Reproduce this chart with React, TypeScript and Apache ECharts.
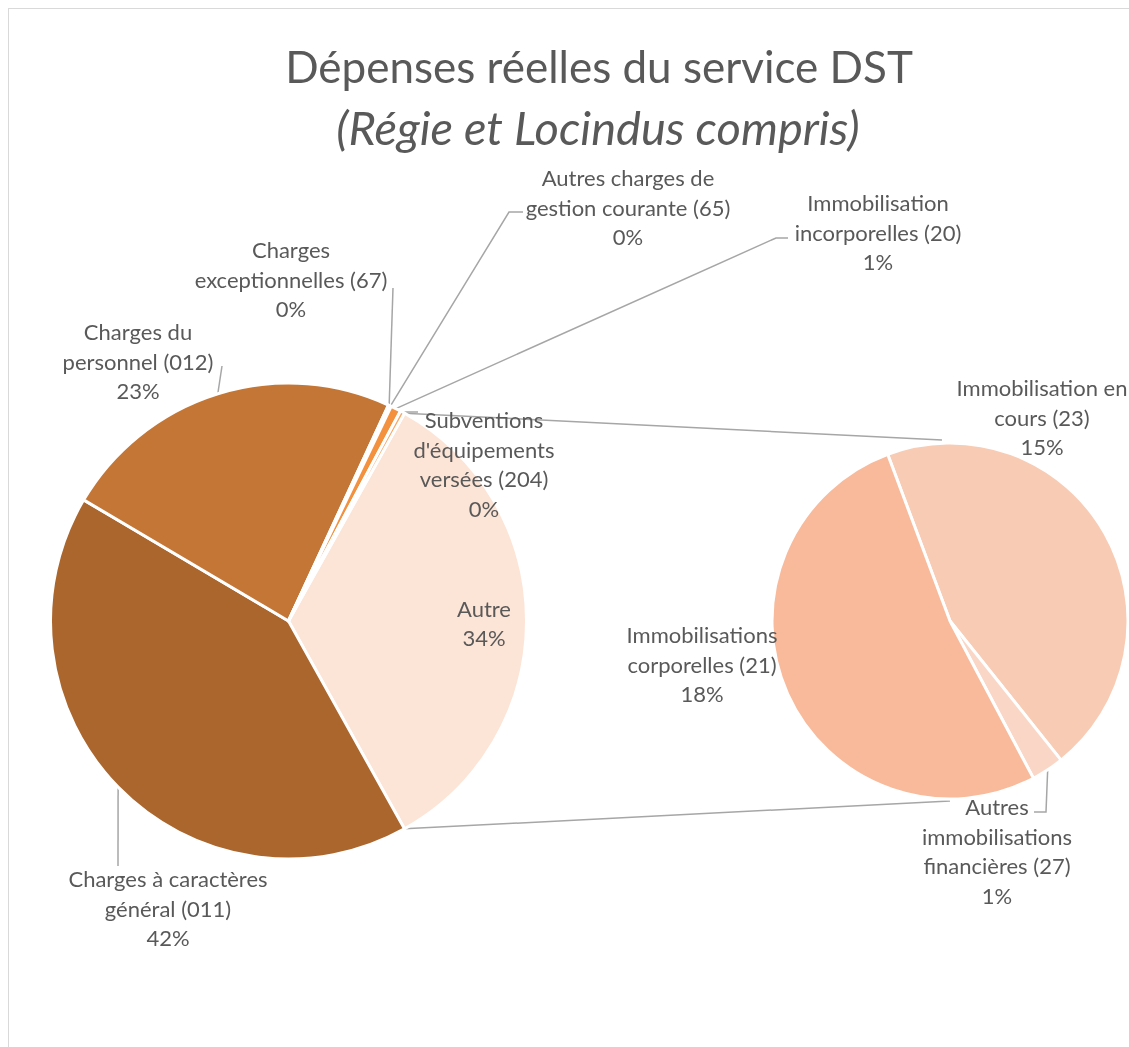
import React, { useEffect, useRef } from "react";
import * as echarts from "echarts";

// ---------- data ----------
const otherCategory = "Autre";
const mainCategories = [
  "Charges à caractères\ngénéral (011)",
  "Charges du\npersonnel (012)",
  "Charges\nexceptionnelles (67)",
  "Autres charges de\ngestion courante (65)",
  "Immobilisation\nincorporelles (20)",
  "Subventions\nd'équipements\nversées (204)",
];
const mainValues = [41.6, 23.4, 0.1, 0.1, 0.7, 0.3];

const secondaryCategories = [
  "Immobilisation en\ncours (23)",
  "Autres\nimmobilisations\nfinancières (27)",
  "Immobilisations\ncorporelles (21)",
];
const secondaryValues = [15.2, 1.0, 17.6];

const titleText = "Dépenses réelles du service DST";
const subtitleText = "(Régie et Locindus compris)";

// ---------- styles / layout ----------
const mainColors = ["#FCE4D6", "#AB662D", "#C47636", "#F4B183", "#F8CBAD", "#F4913E", "#F6A765"];
const secondaryColors = ["#F8CBB4", "#FAD6C6", "#F8BA9A"];

const OX = 9; // chart origin in page coords
const OY = 9;
const C1 = [288.5, 621];
const R1 = 238;
const C2 = [950, 621];
const R2 = 178;
const SECONDARY_START = 110.5;

// label centres (page coords) and leader bends (page coords)
const mainLabelPos = [
  [484, 623],
  [168, 908],
  [138, 361],
  [291, 279],
  [628, 207],
  [878, 232],
  [484, 464],
];
const mainLeaders: (number[][] | null)[] = [
  null,
  [[118, 866]],
  [[222, 366]],
  [[393, 288]],
  [[509, 212], [523, 212]],
  [[776, 238], [788, 238]],
  [[418, 412]],
];
const secLabelPos = [
  [1042, 417],
  [997, 851],
  [702, 664],
];
const secLeaders: (number[][] | null)[] = [null, [[1046, 812], [1034, 812]], null];

const FONT = "Lato";
const TEXT_COLOR = "#595959";
const LINE_COLOR = "#A6A6A6";

function edgePoint(values: number[], idx: number, start: number, c: number[], r: number) {
  const total = values.reduce((a, b) => a + b, 0);
  let cum = 0;
  for (let i = 0; i < idx; i++) cum += values[i];
  const mid = start - (360 * (cum + values[idx] / 2)) / total;
  const rad = (mid * Math.PI) / 180;
  return [c[0] + r * Math.cos(rad) - OX, c[1] - r * Math.sin(rad) - OY];
}

export default function App() {
  const ref = useRef<HTMLDivElement>(null);

  useEffect(() => {
    if (!ref.current) return;
    const chart = echarts.init(ref.current, undefined, { renderer: "svg" });

    const otherValue = secondaryValues.reduce((a, b) => a + b, 0);
    const mainAll = [otherValue, ...mainValues];
    const mainNames = [otherCategory, ...mainCategories];
    const grandTotal = mainAll.reduce((a, b) => a + b, 0);
    const otherSpan = (360 * otherValue) / grandTotal;
    const mainStart = otherSpan / 2;

    const pct = (v: number) => `${Math.round((v / grandTotal) * 100)}%`;

    const labelStyle = {
      show: true,
      position: "outside" as const,
      fontFamily: FONT,
      fontSize: 22,
      lineHeight: 29.5,
      color: TEXT_COLOR,
      align: "center" as const,
      formatter: (p: any) => `${p.name}\n${pct(p.value)}`,
    };

    const toChart = (pt: number[]) => [pt[0] - OX, pt[1] - OY];

    const mainData = mainNames.map((n, i) => ({
      name: n,
      value: mainAll[i],
      itemStyle: { color: mainColors[i] },
      labelLine: { show: !!mainLeaders[i] },
    }));
    const secData = secondaryCategories.map((n, i) => ({
      name: n,
      value: secondaryValues[i],
      itemStyle: { color: secondaryColors[i] },
      labelLine: { show: !!secLeaders[i] },
    }));

    const makeLayout =
      (pos: number[][], leaders: (number[][] | null)[], values: number[], start: number, c: number[], r: number) =>
      (params: any) => {
        const i = params.dataIndex;
        const p = pos[i];
        const res: any = {
          x: p[0] - OX,
          y: p[1] - OY,
          align: "center",
          verticalAlign: "middle",
        };
        const lead = leaders[i];
        if (lead) {
          const pts = [edgePoint(values, i, start, c, r), ...lead.map(toChart)];
          if (pts.length === 2) pts.splice(1, 0, pts[1].slice());
          res.labelLinePoints = pts;
        }
        return res;
      };

    // connector lines between Autre and the secondary pie
    const half = (otherSpan / 2) * (Math.PI / 180);
    const topStart = [C1[0] + R1 * Math.cos(half) - OX, C1[1] - R1 * Math.sin(half) - OY];
    const botStart = [C1[0] + R1 * Math.cos(half) - OX, C1[1] + R1 * Math.sin(half) - OY];
    const topEnd = [C2[0] - 8 - OX, C2[1] - R2 - 3 - OY];
    const botEnd = [C2[0] - OX, C2[1] + R2 + 2 - OY];

    chart.setOption({
      animation: false,
      graphic: [
        {
          type: "text",
          x: 599 - OX,
          y: 66 - OY,
          style: {
            text: titleText,
            fill: TEXT_COLOR,
            fontFamily: FONT,
            fontSize: 44,
            align: "center",
            verticalAlign: "middle",
          },
        },
        {
          type: "text",
          x: 598 - OX,
          y: 127 - OY,
          style: {
            text: subtitleText,
            fill: TEXT_COLOR,
            fontFamily: FONT,
            fontSize: 47,
            fontStyle: "italic",
            align: "center",
            verticalAlign: "middle",
          },
        },
        {
          type: "line",
          z: -1,
          shape: { x1: topStart[0], y1: topStart[1], x2: topEnd[0], y2: topEnd[1] },
          style: { stroke: LINE_COLOR, lineWidth: 1.5 },
        },
        {
          type: "line",
          z: -1,
          shape: { x1: botStart[0], y1: botStart[1], x2: botEnd[0], y2: botEnd[1] },
          style: { stroke: LINE_COLOR, lineWidth: 1.5 },
        },
      ],
      series: [
        {
          type: "pie",
          center: [C1[0] - OX, C1[1] - OY],
          radius: R1,
          startAngle: mainStart,
          clockwise: true,
          avoidLabelOverlap: false,
          silent: true,
          itemStyle: { borderColor: "#FFFFFF", borderWidth: 3 },
          label: labelStyle,
          labelLine: { show: true, length: 10, length2: 10, lineStyle: { color: LINE_COLOR, width: 1.5 } },
          labelLayout: makeLayout(mainLabelPos, mainLeaders, mainAll, mainStart, C1, R1),
          data: mainData,
        },
        {
          type: "pie",
          center: [C2[0] - OX, C2[1] - OY],
          radius: R2,
          startAngle: SECONDARY_START,
          clockwise: true,
          avoidLabelOverlap: false,
          silent: true,
          itemStyle: { borderColor: "#FFFFFF", borderWidth: 3 },
          label: labelStyle,
          labelLine: { show: true, length: 10, length2: 10, lineStyle: { color: LINE_COLOR, width: 1.5 } },
          labelLayout: makeLayout(secLabelPos, secLeaders, secondaryValues, SECONDARY_START, C2, R2),
          data: secData,
        },
      ],
    });

    return () => chart.dispose();
  }, []);

  return (
    <div
      style={{
        position: "fixed",
        left: 8,
        top: 8,
        width: 1130,
        height: 1045,
        overflow: "hidden",
        borderLeft: "1px solid #D9D9D9",
        borderTop: "1px solid #D9D9D9",
        boxSizing: "content-box",
      }}
    >
      <div ref={ref} style={{ width: 1160, height: 1080 }} />
    </div>
  );
}
